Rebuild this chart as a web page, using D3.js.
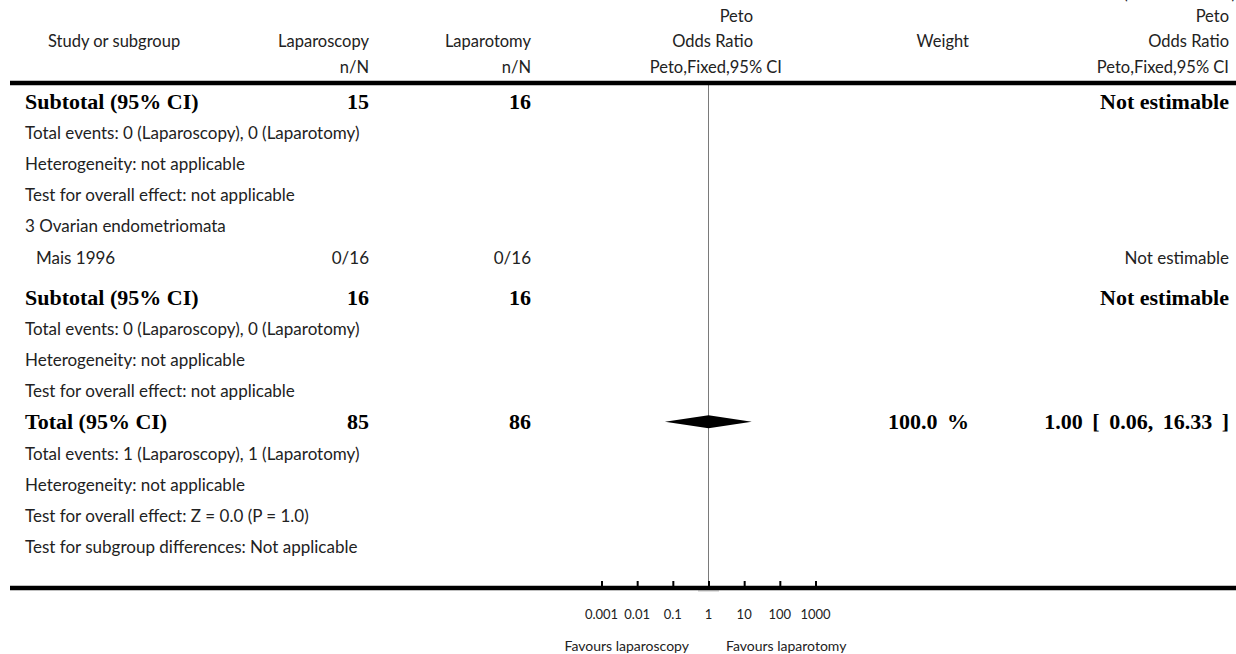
<!DOCTYPE html>
<html>
<head>
<meta charset="utf-8">
<script src="https://cdn.jsdelivr.net/npm/d3@7"></script>
<style>
  html, body { margin: 0; padding: 0; background: #fff; }
  svg { display: block; }
</style>
</head>
<body>
<svg id="chart" width="1236" height="654"></svg>
<script>
// ---------- data ----------
const rowLabels = [
  "Subtotal (95% CI)",
  "Total events: 0 (Laparoscopy), 0 (Laparotomy)",
  "Heterogeneity: not applicable",
  "Test for overall effect: not applicable",
  "3 Ovarian endometriomata",
  "Mais 1996",
  "Subtotal (95% CI)",
  "Total events: 0 (Laparoscopy), 0 (Laparotomy)",
  "Heterogeneity: not applicable",
  "Test for overall effect: not applicable",
  "Total (95% CI)",
  "Total events: 1 (Laparoscopy), 1 (Laparotomy)",
  "Heterogeneity: not applicable",
  "Test for overall effect: Z = 0.0 (P = 1.0)",
  "Test for subgroup differences: Not applicable"
];
const rowKinds = ["subtotal","note","note","note","group","study","subtotal","note","note","note","total","note","note","note","note"];
const laparoscopyValues = ["15","","","","","0/16","16","","","","85","","","",""];
const laparotomyValues  = ["16","","","","","0/16","16","","","","86","","","",""];
const weightValues      = ["","","","","","","","","","","100.0 %","","","",""];
const effectTexts       = ["Not estimable","","","","","Not estimable","Not estimable","","","","1.00 [ 0.06, 16.33 ]","","","",""];

const totalOR = 1.00, totalLow = 0.06, totalHigh = 16.33;
const axisTicks = [0.001, 0.01, 0.1, 1, 10, 100, 1000];
const axisTickLabels = ["0.001","0.01","0.1","1","10","100","1000"];
const favoursLabels = ["Favours laparoscopy", "Favours laparotomy"];

// ---------- layout ----------
const svg = d3.select("#chart");
const sans = "Lato, 'Open Sans', sans-serif";
const serif = "'Liberation Serif', 'Times New Roman', serif";
const fsHead = 16.5, fsBody = 17, fsBold = 22;
const ink = "#222";

const colLeft = 25, colIndent = 36;
const colLap = 369, colLapo = 531, colWeight = 969, colEffect = 1229;

const x = d3.scaleLog().domain([0.001, 1000]).range([601.5, 815.5]);

const rowY = [];
{
  let y = 101;
  rowKinds.forEach((k, i) => {
    if (i > 0) y += (k === "subtotal" && rowKinds[i - 1] === "study") ? 40 : 31.2;
    rowY.push(y);
  });
}

// partially visible continuation label at the top edge
svg.append("text").attr("x", 1236).attr("y", -1.5).attr("text-anchor", "end")
  .attr("font-family", sans).attr("font-size", fsHead).attr("fill", ink)
  .text("(Continued . . . )");

// headers
const hdr = svg.append("g").attr("font-family", sans).attr("font-size", fsHead).attr("fill", ink);
function htext(xp, yp, anchor, t) {
  hdr.append("text").attr("x", xp).attr("y", yp).attr("text-anchor", anchor)
    .attr("dominant-baseline", "central").text(t);
}
htext(48, 41, "start", "Study or subgroup");
htext(colLap, 41, "end", "Laparoscopy");
htext(colLapo, 41, "end", "Laparotomy");
htext(colLap, 67, "end", "n/N");
htext(colLapo, 67, "end", "n/N");
htext(753, 16, "end", "Peto");
htext(753, 41, "end", "Odds Ratio");
htext(782, 67, "end", "Peto,Fixed,95% CI");
htext(colWeight, 41, "end", "Weight");
htext(colEffect, 16, "end", "Peto");
htext(colEffect, 41, "end", "Odds Ratio");
htext(colEffect, 67, "end", "Peto,Fixed,95% CI");

// vertical reference line at OR = 1
svg.append("line").attr("x1", x(1)).attr("x2", x(1)).attr("y1", 85).attr("y2", 586)
  .attr("stroke", "#7a7a7a").attr("stroke-width", 1);

// thick rules
svg.append("line").attr("x1", 10).attr("x2", 1236).attr("y1", 83).attr("y2", 83)
  .attr("stroke", "#000").attr("stroke-width", 4.5);
svg.append("line").attr("x1", 10).attr("x2", 1236).attr("y1", 588).attr("y2", 588)
  .attr("stroke", "#000").attr("stroke-width", 4.5);

// rows
const rows = svg.append("g");
rowLabels.forEach((lab, i) => {
  const k = rowKinds[i];
  const bold = (k === "subtotal" || k === "total");
  const g = rows.append("g")
    .attr("font-family", bold ? serif : sans)
    .attr("font-size", bold ? fsBold : fsBody)
    .attr("font-weight", bold ? "bold" : "normal")
    .attr("fill", bold ? "#000" : ink);
  const y = rowY[i];
  const t = (xp, anchor, s, ws) => { if (s) g.append("text").attr("x", xp).attr("y", y)
    .attr("text-anchor", anchor).attr("dominant-baseline", "central")
    .attr("word-spacing", ws || 0).text(s); };
  t(k === "study" ? colIndent : colLeft, "start", lab);
  t(colLap, "end", laparoscopyValues[i]);
  t(colLapo, "end", laparotomyValues[i]);
  t(colWeight, "end", weightValues[i], k === "total" ? 4 : 0);
  t(colEffect, "end", effectTexts[i], k === "total" ? 4 : 0);
});

// total diamond
const yT = rowY[rowKinds.indexOf("total")];
svg.append("path")
  .attr("d", `M${x(totalLow)},${yT} L${x(totalOR)},${yT - 6.5} L${x(totalHigh)},${yT} L${x(totalOR)},${yT + 6.5} Z`)
  .attr("fill", "#000");

// axis ticks
const axisY = 586;
const ax = svg.append("g").attr("transform", `translate(0,${axisY})`)
  .call(d3.axisTop(x).tickValues(axisTicks).tickSize(5).tickFormat(""));
ax.select(".domain").remove();
ax.selectAll(".tick line").attr("stroke", "#000").attr("stroke-width", 2);

svg.append("line").attr("x1", x(1) - 10.5).attr("x2", x(1) + 10.5).attr("y1", 590.8).attr("y2", 590.8)
  .attr("stroke", "#999").attr("stroke-width", 1);

svg.append("g").attr("font-family", sans).attr("font-size", 13).attr("fill", ink)
  .selectAll("text").data(axisTicks).join("text")
  .attr("x", d => x(d)).attr("y", 614).attr("text-anchor", "middle")
  .attr("dominant-baseline", "central")
  .text((d, i) => axisTickLabels[i]);

svg.append("g").attr("font-family", sans).attr("font-size", 14).attr("fill", ink)
  .selectAll("text").data(favoursLabels).join("text")
  .attr("x", (d, i) => i === 0 ? x(1) - 19.5 : x(1) + 17.5)
  .attr("y", 645).attr("text-anchor", (d, i) => i === 0 ? "end" : "start")
  .attr("dominant-baseline", "central")
  .text(d => d);
</script>
</body>
</html>
